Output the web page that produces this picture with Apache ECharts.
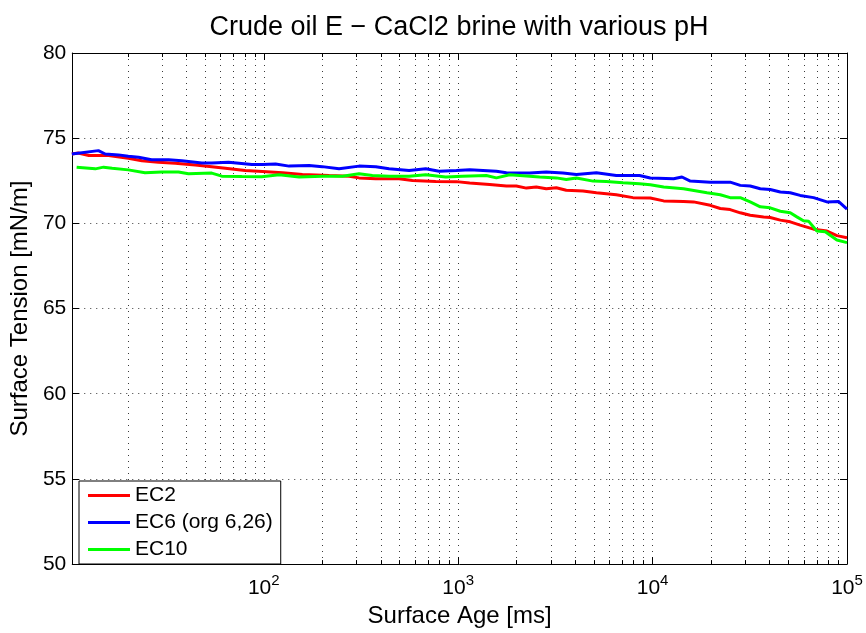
<!DOCTYPE html>
<html>
<head>
<meta charset="utf-8">
<script src="https://cdn.jsdelivr.net/npm/echarts@6/dist/echarts.min.js"></script>
<style>
html,body{margin:0;padding:0;background:#fff;}
#chart{width:866px;height:633px;}
</style>
</head>
<body>
<div id="chart"></div>
<script>
// ---- data (surface age in ms, surface tension in mN/m) ----
const seriesNames = ['EC2', 'EC6 (org 6,26)', 'EC10'];
const seriesColors = ['#ff0000', '#0000ff', '#00ff00'];

const ec2Age = [10.3,11.1,12.6,15.9,20.1,23.6,28.7,35.0,44.4,54.0,63.4,80.2,98.5,125,158,217,275,309,377,497,582,766,979,1146,1452,1770,1991,2243,2523,2838,3199,3597,4385,5140,6506,7925,9730,11400,14430,16250,19800,22290,25060,28250,31770,37240,40270,45390,51050,57410,67300,78890,88720,100000];
const ec2Tension = [74.07,74.13,73.98,73.98,73.82,73.67,73.59,73.53,73.43,73.33,73.24,73.10,73.04,72.97,72.87,72.81,72.77,72.67,72.62,72.62,72.52,72.46,72.45,72.37,72.28,72.19,72.19,72.07,72.13,72.03,72.09,71.94,71.90,71.80,71.68,71.51,71.49,71.32,71.29,71.26,71.06,70.87,70.81,70.62,70.48,70.38,70.34,70.19,70.09,69.90,69.66,69.55,69.28,69.16];

const ec6Age = [10.3,14.1,15.3,17.9,20.1,22.7,26.5,32.4,37.9,48.0,54.0,65.9,86.8,98.5,115,135,171,200,244,309,377,441,559,681,798,979,1146,1572,1770,2333,2838,3460,4055,5140,6506,8570,9730,12830,14160,15630,19800,25060,28250,31770,35810,40270,45390,51050,57410,67300,78890,90360,100000];
const ec6Tension = [74.07,74.27,74.07,74.02,73.94,73.88,73.74,73.74,73.68,73.55,73.55,73.59,73.45,73.45,73.49,73.36,73.39,73.33,73.20,73.36,73.32,73.20,73.10,73.20,73.06,73.10,73.14,73.06,72.97,72.95,73.01,72.95,72.87,72.97,72.81,72.81,72.66,72.62,72.72,72.48,72.42,72.42,72.23,72.19,72.03,71.99,71.84,71.80,71.64,71.51,71.26,71.29,70.83];

const ec10Age = [10.9,13.6,15.0,16.6,20.1,24.5,29.9,36.4,41.0,54.0,60.8,77.1,97.7,120,152,200,254,309,362,441,559,681,863,1050,1396,1572,1841,2624,3199,3597,4055,4941,5781,7041,8570,9730,11400,14430,19050,22290,25060,28250,31770,35810,40270,45390,51050,55210,59700,63390,69980,77270,88720,100000];
const ec10Tension = [73.30,73.20,73.30,73.24,73.14,72.97,73.01,73.01,72.91,72.95,72.77,72.75,72.74,72.85,72.72,72.77,72.77,72.91,72.81,72.77,72.77,72.85,72.72,72.77,72.81,72.67,72.85,72.72,72.67,72.58,72.66,72.48,72.46,72.38,72.33,72.27,72.13,72.03,71.80,71.68,71.51,71.51,71.26,70.97,70.91,70.71,70.62,70.38,70.15,70.13,69.55,69.51,69.02,68.87];

const xMinMs = 10.35, xMaxMs = 100000;
const yMin = 50, yMax = 80, yStep = 5;
const majorExponents = [2, 3, 4, 5];
const minorMultipliers = [2, 3, 4, 5, 6, 7, 8, 9];
const minorDecades = [1, 2, 3, 4];

const titleText = 'Crude oil E \u2212 CaCl2 brine with various pH';
const xName = 'Surface Age [ms]';
const yName = 'Surface Tension [mN/m]';

// ---- build ----
const FONT = '"Liberation Sans", Arial, Helvetica, sans-serif';
const lg = v => Math.log10(v);
const xMin = lg(xMinMs), xMax = lg(xMaxMs);
const majorInside = majorExponents.filter(e => e > xMin && e < xMax);
const minorVals = [];
minorDecades.forEach(d => minorMultipliers.forEach(m => {
  const v = lg(m * Math.pow(10, d));
  if (v > xMin && v < xMax) minorVals.push(v);
}));

const gridStyle = {show: true, lineStyle: {color: '#3a3a3a', width: 1, type: [1, 5]}};
const noGrid = {show: false};

function xAx(pos, ticks, len, opts) {
  return Object.assign({
    type: 'value', gridIndex: 0, position: pos, min: xMin, max: xMax,
    axisLine: {show: false, onZero: false, lineStyle: {color: '#000', width: 1}},
    axisTick: {show: true, inside: true, length: len, customValues: ticks, lineStyle: {color: '#000', width: 1}},
    axisLabel: {show: false},
    splitLine: noGrid
  }, opts || {});
}

const xAxes = [
  xAx('bottom', majorInside, 7, {
    axisLine: {show: true, onZero: false, lineStyle: {color: '#000', width: 1}},
    axisLabel: {
      show: true, customValues: majorExponents, margin: 9,
      formatter: v => '{b|10}{s|' + Math.round(v) + '}',
      rich: {
        b: {fontSize: 21, lineHeight: 26, verticalAlign: 'bottom', fontFamily: FONT, color: '#000'},
        s: {fontSize: 15, lineHeight: 15, verticalAlign: 'top', fontFamily: FONT, color: '#000'}
      }
    },
    splitLine: gridStyle,
    name: xName, nameLocation: 'middle', nameGap: 32,
    nameTextStyle: {fontSize: 24, fontFamily: FONT, color: '#000'}
  }),
  xAx('bottom', minorVals, 4, {splitLine: gridStyle}),
  xAx('top', majorInside, 7, {axisLine: {show: true, onZero: false, lineStyle: {color: '#000', width: 1}}}),
  xAx('top', minorVals, 4)
];

const yAxes = [
  {
    type: 'value', position: 'left', min: yMin, max: yMax, interval: yStep,
    axisLine: {show: true, onZero: false, lineStyle: {color: '#000', width: 1}},
    axisTick: {show: true, inside: true, length: 7, lineStyle: {color: '#000'}},
    axisLabel: {show: true, margin: 6, fontSize: 21, fontFamily: FONT, color: '#000'},
    splitLine: gridStyle,
    name: yName, nameLocation: 'middle', nameGap: 36, nameRotate: 90,
    nameTextStyle: {fontSize: 24, fontFamily: FONT, color: '#000'}
  },
  {
    type: 'value', position: 'right', min: yMin, max: yMax, interval: yStep,
    axisLine: {show: true, onZero: false, lineStyle: {color: '#000', width: 1}},
    axisTick: {show: true, inside: true, length: 7, lineStyle: {color: '#000'}},
    axisLabel: {show: false},
    splitLine: noGrid
  }
];

const ages = [ec2Age, ec6Age, ec10Age];
const tensions = [ec2Tension, ec6Tension, ec10Tension];
const series = seriesNames.map((name, i) => ({
  name: name, type: 'line', xAxisIndex: 0, yAxisIndex: 0,
  data: ages[i].map((a, j) => [lg(a), tensions[i][j]]),
  showSymbol: false, symbol: 'none', smooth: false,
  lineStyle: {width: 3, color: seriesColors[i]},
  itemStyle: {color: seriesColors[i]},
  clip: true, z: 3 + i
}));

const chart = echarts.init(document.getElementById('chart'), null, {renderer: 'canvas'});
chart.setOption({
  animation: false,
  backgroundColor: '#fff',
  textStyle: {fontFamily: FONT},
  title: {
    text: titleText, left: 459, top: 14, padding: 0, textAlign: 'center',
    textStyle: {fontSize: 27, fontWeight: 'normal', fontFamily: FONT, color: '#000'}
  },
  grid: {left: 72, top: 53, width: 775, height: 515, containLabel: false},
  xAxis: xAxes,
  yAxis: yAxes,
  legend: {
    left: 79, top: 481, orient: 'vertical',
    data: seriesNames,
    icon: 'rect', itemWidth: 42, itemHeight: 3, itemGap: 6,
    padding: [4, 8, 4, 9],
    backgroundColor: '#fff', borderColor: '#000', borderWidth: 1, borderRadius: 0,
    textStyle: {fontSize: 21, lineHeight: 20, fontFamily: FONT, color: '#000'},
    selectedMode: false
  },
  series: series
});
</script>
</body>
</html>
